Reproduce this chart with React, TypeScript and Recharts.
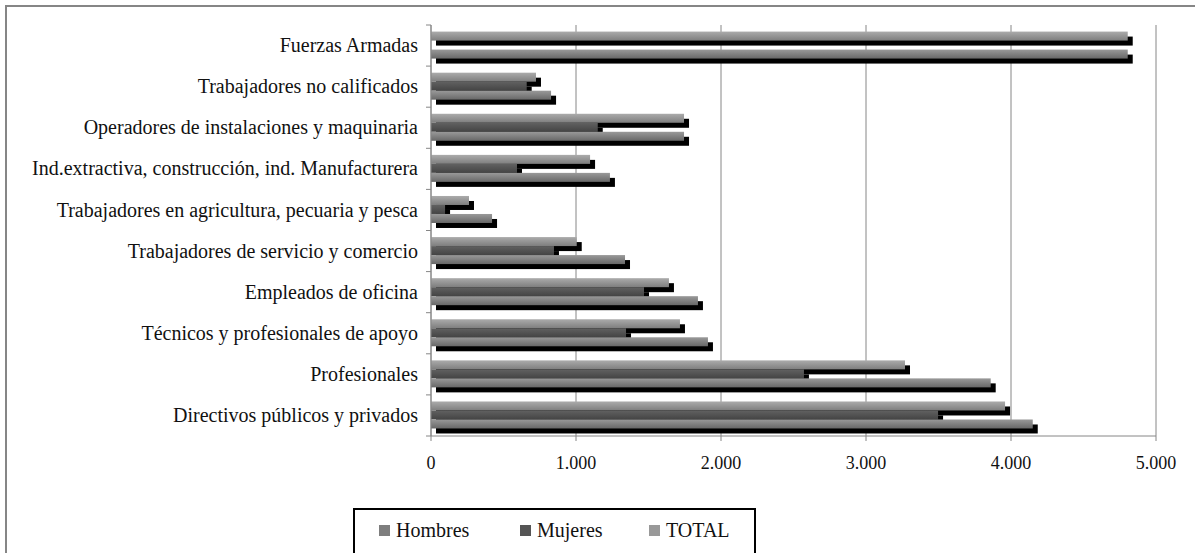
import React from "react";
import { BarChart, Bar, XAxis, YAxis, CartesianGrid } from "recharts";

const categories = [
  "Fuerzas Armadas",
  "Trabajadores no calificados",
  "Operadores de instalaciones y maquinaria",
  "Ind.extractiva, construcción, ind. Manufacturera",
  "Trabajadores en agricultura, pecuaria y pesca",
  "Trabajadores de servicio y comercio",
  "Empleados de oficina",
  "Técnicos y profesionales de apoyo",
  "Profesionales",
  "Directivos públicos y privados",
];
const hombres = [4805, 828, 1745, 1234, 421, 1338, 1841, 1910, 3860, 4150];
const mujeres = [0, 660, 1150, 593, 97, 848, 1469, 1345, 2572, 3497];
const total = [4805, 724, 1745, 1097, 262, 1005, 1641, 1717, 3269, 3959];
const xTicks = [0, 1000, 2000, 3000, 4000, 5000];

const seriesNames = ["Hombres", "Mujeres", "TOTAL"];

const data = categories.map((c, i) => ({
  name: c,
  Hombres: hombres[i],
  Mujeres: mujeres[i],
  TOTAL: total[i],
}));

const FONT = "Liberation Serif, DejaVu Serif, serif";
const GRID = "#868686";

const gradients: Record<string, [string, string]> = {
  Hombres: ["#999999", "#686868"],
  Mujeres: ["#616161", "#444444"],
  TOTAL: ["#ababab", "#7e7e7e"],
};

const makeShape = (key: string) => (props: any) => {
  const { x, y, width, height } = props;
  if (!width || width <= 0) return <g />;
  return (
    <g>
      <rect x={x + 5} y={y + 5} width={width} height={height} fill="#000" />
      <rect x={x} y={y} width={width} height={height} fill={`url(#grad-${key})`} />
    </g>
  );
};

const YTick = (props: any) => {
  const { x, y, payload, index } = props;
  const off = payload && payload.offset ? payload.offset : 20.5;
  const lx1 = x + 8;
  const lx2 = x + 13;
  return (
    <g>
      <line x1={lx1} x2={lx2} y1={y - off} y2={y - off} stroke={GRID} strokeWidth={1} />
      {index === categories.length - 1 && (
        <line x1={lx1} x2={lx2} y1={y + off} y2={y + off} stroke={GRID} strokeWidth={1} />
      )}
      <text x={x} y={y} dy="0.33em" textAnchor="end" fill="#111" fontSize={20} fontFamily={FONT}>
        {payload.value}
      </text>
    </g>
  );
};

const fmt = (v: number) => v.toLocaleString("de-DE");

const legendColors: Record<string, string> = {
  Hombres: "#7e7e7e",
  Mujeres: "#555555",
  TOTAL: "#999999",
};
const legendLeft = [24, 165, 294];

export default function App() {
  return (
    <div
      style={{
        position: "absolute",
        left: 0,
        top: 0,
        width: 1195,
        height: 553,
        overflow: "hidden",
        background: "#fff",
      }}
    >
      <div
        style={{
          position: "absolute",
          left: 5,
          top: 5,
          width: 1300,
          height: 700,
          borderLeft: `2px solid ${GRID}`,
          borderTop: `2px solid ${GRID}`,
        }}
      />
      <div style={{ position: "absolute", left: 0, top: 0 }}>
        <BarChart
          width={1195}
          height={553}
          data={data}
          layout="vertical"
          margin={{ top: 25, right: 39, bottom: 87, left: 0 }}
          barCategoryGap="16%"
          barGap={0}
        >
          <defs>
            {seriesNames.map((k) => (
              <linearGradient key={k} id={`grad-${k}`} x1="0" y1="0" x2="0" y2="1">
                <stop offset="0%" stopColor={gradients[k][0]} />
                <stop offset="100%" stopColor={gradients[k][1]} />
              </linearGradient>
            ))}
          </defs>
          <CartesianGrid horizontal={false} vertical={true} stroke={GRID} strokeWidth={1} />
          <XAxis
            type="number"
            domain={[0, 5000]}
            ticks={xTicks}
            tickFormatter={fmt}
            stroke={GRID}
            height={30}
            tickSize={5}
            tickMargin={15}
            tick={{ fill: "#111", fontSize: 18, fontFamily: FONT }}
            interval={0}
          />
          <YAxis
            type="category"
            dataKey="name"
            width={431}
            stroke={GRID}
            tickLine={false}
            tickSize={5}
            tickMargin={8}
            tick={<YTick />}
            interval={0}
          />
          <Bar dataKey="TOTAL" isAnimationActive={false} shape={makeShape("TOTAL")} />
          <Bar dataKey="Mujeres" isAnimationActive={false} shape={makeShape("Mujeres")} />
          <Bar dataKey="Hombres" isAnimationActive={false} shape={makeShape("Hombres")} />
        </BarChart>
      </div>
      <div
        style={{
          position: "absolute",
          left: 353,
          top: 508,
          width: 403,
          height: 60,
          border: "2px solid #000",
          boxSizing: "border-box",
          fontFamily: FONT,
          fontSize: 20,
          color: "#111",
        }}
      >
        {seriesNames.map((k, i) => (
          <div
            key={k}
            style={{
              position: "absolute",
              left: legendLeft[i],
              top: 8,
              height: 24,
              display: "flex",
              alignItems: "center",
              whiteSpace: "nowrap",
            }}
          >
            <span
              style={{
                display: "inline-block",
                width: 11,
                height: 11,
                background: legendColors[k],
                marginRight: 6,
              }}
            />
            <span>{k}</span>
          </div>
        ))}
      </div>
    </div>
  );
}
